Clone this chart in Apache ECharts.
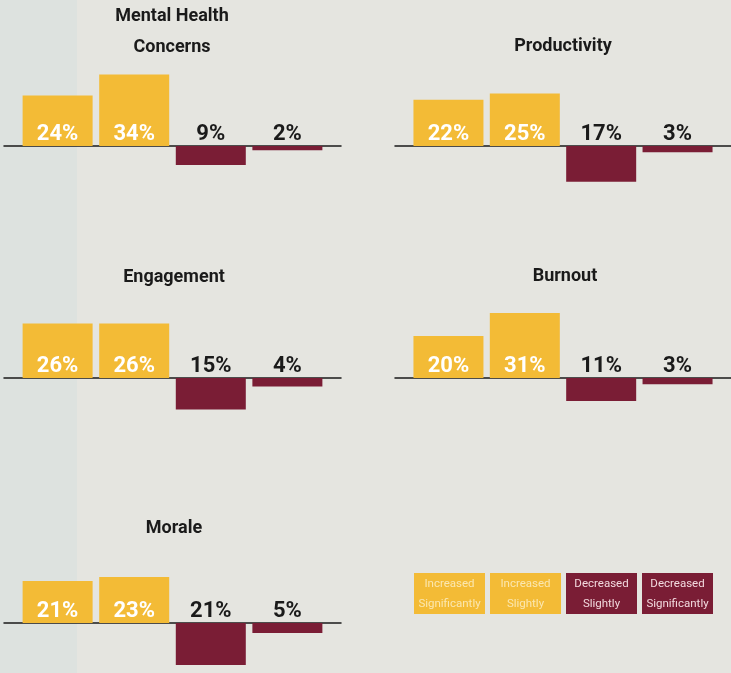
<!DOCTYPE html>
<html>
<head>
<meta charset="utf-8">
<script src="https://cdn.jsdelivr.net/npm/echarts@6/dist/echarts.min.js"></script>
<style>
html,body{margin:0;padding:0;width:731px;height:673px;overflow:hidden;
background:linear-gradient(to right,#dde2df 0,#dde2df 77px,#e5e5e0 77px,#e5e5e0 100%);}
#c{width:731px;height:673px;}
</style>
</head>
<body>
<div id="c"></div>
<script>
// ---- data ----
const panelTitles = ['Mental Health\nConcerns', 'Productivity', 'Engagement', 'Burnout', 'Morale'];
const categories = ['Increased Significantly', 'Increased Slightly', 'Decreased Slightly', 'Decreased Significantly'];
const mentalHealth = [24, 34, -9, -2];
const productivity = [22, 25, -17, -3];
const engagement = [26, 26, -15, -4];
const burnout = [20, 31, -11, -3];
const morale = [21, 23, -21, -5];
const panelValues = [mentalHealth, productivity, engagement, burnout, morale];

// ---- styling / layout ----
const YELLOW = '#f3bb36', MAROON = '#7a1d35';
const catColors = [YELLOW, YELLOW, MAROON, MAROON];
const legendTextColors = ['#fbe7b0', '#fbe7b0', '#f2d9de', '#f2d9de'];
const FONT = "Roboto, 'Liberation Sans', sans-serif";
const PX = 2.1, YMIN = -25, YMAX = 40, XMIN = -0.7, XMAX = 3.7, GRIDW = 337;
const layout = [
  {left: 4,   base: 146, tx: 172, tt: 1},
  {left: 395, base: 146, tx: 563, tt: 31},
  {left: 4,   base: 378, tx: 174, tt: 262},
  {left: 395, base: 378, tx: 565, tt: 261},
  {left: 4,   base: 627, tx: 174, tt: 513}
];

const grids = [], xAxes = [], yAxes = [], series = [], titles = [];
layout.forEach((L, g) => {
  grids.push({left: L.left, width: GRIDW, top: L.base - YMAX * PX, height: (YMAX - YMIN) * PX});
  xAxes.push({type: 'value', gridIndex: g, min: XMIN, max: XMAX,
    axisLine: {show: true, onZero: true, lineStyle: {color: '#1a1a1a', width: 1.5}},
    axisTick: {show: false}, axisLabel: {show: false}, splitLine: {show: false}});
  yAxes.push({type: 'value', gridIndex: g, min: YMIN, max: YMAX, show: false, splitLine: {show: false}});
  titles.push({text: panelTitles[g], left: L.tx, top: L.tt, textAlign: 'center', padding: 0,
    textStyle: {fontFamily: FONT, fontWeight: 'bold', fontSize: 18, lineHeight: 31, color: '#1a1a1a'}});
  series.push({
    type: 'bar', name: panelTitles[g], xAxisIndex: g, yAxisIndex: g, barWidth: 70,
    silent: true, animation: false,
    data: panelValues[g].map((v, i) => ({
      value: [i, v],
      itemStyle: {color: catColors[i]},
      label: v >= 0
        ? {show: true, position: 'insideBottom', distance: 1, color: '#ffffff'}
        : {show: true, position: 'top', distance: 1, color: '#1a1a1a'}
    })),
    label: {fontFamily: FONT, fontWeight: 'bold', fontSize: 22,
      formatter: p => Math.abs(p.value[1]) + '%'}
  });
});
// legend entries (series carrying category names/colours)
categories.forEach((c, i) => {
  series.push({type: 'line', name: c, xAxisIndex: 0, yAxisIndex: 0, data: [], color: catColors[i], silent: true});
});

const chart = echarts.init(document.getElementById('c'), null, {renderer: 'canvas'});
chart.setOption({
  animation: false,
  title: titles,
  grid: grids,
  xAxis: xAxes,
  yAxis: yAxes,
  legend: {
    left: 409, top: 573, itemWidth: 0, itemHeight: 0, itemGap: 0, selectedMode: false, padding: 0,
    icon: 'rect',
    formatter: name => name.split(' ').map(w => '{t|' + w + '}').join('\n'),
    textStyle: {fontFamily: FONT, fontSize: 11.5, padding: [1, 0, 0, 0],
      rich: {t: {width: 71, align: 'center', lineHeight: 20, fontFamily: FONT, fontSize: 11.5}}},
    data: categories.map((c, i) => ({name: c, textStyle: {backgroundColor: catColors[i], color: legendTextColors[i]}}))
  },
  series: series
});
</script>
</body>
</html>
